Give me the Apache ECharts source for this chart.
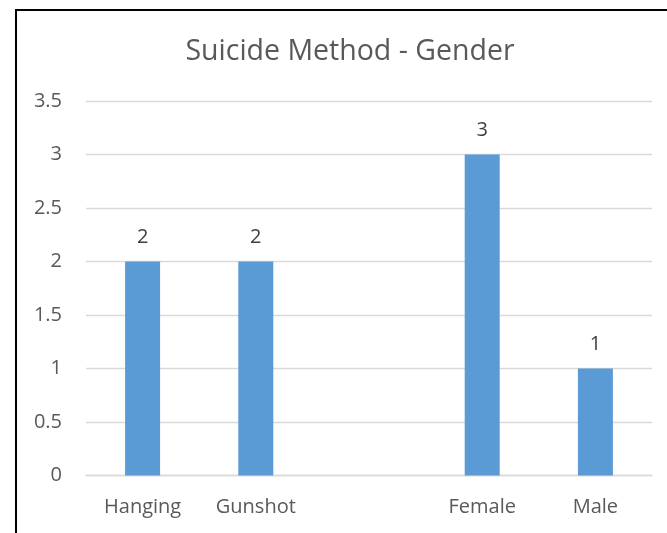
<!DOCTYPE html>
<html>
<head>
<meta charset="utf-8">
<script src="https://cdn.jsdelivr.net/npm/echarts@6/dist/echarts.min.js"></script>
<style>html,body{margin:0;padding:0;background:#fff;}#c{width:667px;height:533px;}</style>
</head>
<body>
<div id="c"></div>
<script>
var categories = ['Hanging', 'Gunshot', '', 'Female', 'Male'];
var values = [2, 2, null, 3, 1];
var titleText = 'Suicide Method - Gender';

var chart = echarts.init(document.getElementById('c'), null, {renderer: 'canvas'});
chart.setOption({
  animation: false,
  backgroundColor: '#fff',
  title: {
    text: titleText,
    left: 345,
    top: 32,
    textAlign: 'center',
    textStyle: {fontFamily: 'Open Sans', fontSize: 28.5, fontWeight: 'normal', color: '#595959'}
  },
  graphic: [{
    type: 'rect',
    shape: {x: 16, y: 10, width: 700, height: 600},
    style: {fill: 'none', stroke: '#000', lineWidth: 2},
    silent: true
  }],
  grid: {left: 86, right: 15, top: 101, bottom: 57.5, containLabel: false},
  xAxis: {
    type: 'category',
    data: categories,
    axisLine: {lineStyle: {color: '#d9d9d9', width: 1.3}},
    axisTick: {show: false},
    axisLabel: {margin: 22, color: '#595959', fontFamily: 'Open Sans', fontSize: 20, interval: 0}
  },
  yAxis: {
    type: 'value',
    min: 0, max: 3.5, interval: 0.5,
    axisLine: {show: false},
    axisTick: {show: false},
    splitLine: {lineStyle: {color: '#d9d9d9', width: 1.3}},
    axisLabel: {margin: 24, color: '#595959', fontFamily: 'Open Sans', fontSize: 20}
  },
  series: [{
    type: 'bar',
    data: values,
    barWidth: 35,
    itemStyle: {color: '#5b9bd5'},
    label: {show: true, position: 'top', distance: 14, color: '#404040', fontFamily: 'Open Sans', fontSize: 20}
  }]
});
</script>
</body>
</html>
